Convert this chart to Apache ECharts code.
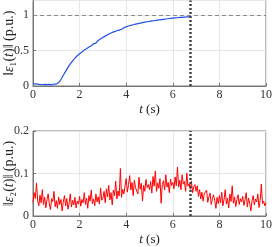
<!DOCTYPE html>
<html><head><meta charset="utf-8">
<script src="https://cdn.jsdelivr.net/npm/echarts@6/dist/echarts.min.js"></script>
<style>html,body{margin:0;padding:0;background:#fff}#c{width:274px;height:247px}</style>
</head><body><div id="c"></div>
<script>
const dt = 0.05;
const xTicks = [0, 2, 4, 6, 8, 10];
const topTicks = [0, 0.5, 1];
const botTicks = [0, 0.1, 0.2];
const tSwitch = 6.74;
const refLevel = 1;
const e1 = [
0.028,0.022,0.031,0.019,0.026,0.033,0.021,0.027,0.018,0.029,0.024,0.032,0.02,0.026,0.023,0.03,0.017,0.025,0.028,0.021,0.027,0.024,
0.048,0.062,0.09,0.112,0.15,0.168,0.205,0.222,0.262,0.27,0.31,0.318,0.352,0.36,0.39,0.392,0.425,0.421,0.452,0.446,
0.478,0.472,0.505,0.51,0.522,0.54,0.548,0.568,0.566,0.59,0.592,0.61,0.602,0.63,0.64,0.638,0.662,0.658,
0.68,0.682,0.70,0.694,0.718,0.714,0.736,0.73,0.752,0.748,0.764,0.77,0.776,0.789,0.784,0.802,0.796,0.81,0.818,0.812,
0.83,0.826,0.842,0.836,0.852,0.846,0.86,0.854,0.868,0.862,0.876,0.87,0.882,0.878,0.89,0.884,0.896,0.891,0.902,0.897,
0.906,0.9,0.913,0.907,0.916,0.91,0.922,0.918,0.927,0.92,0.932,0.926,0.936,0.93,0.94,0.934,0.944,0.938,0.948,0.942,
0.952,0.946,0.955,0.95,0.958,0.952,0.962,0.956,0.964,0.96,0.968,0.962,0.97,0.964,0.972,0.968
];
const e2 = [
0.032,0.055,0.041,0.078,0.036,0.024,0.049,0.031,0.062,0.027,0.044,0.019,0.038,0.052,0.029,0.015,0.041,0.034,0.058,0.022,
0.036,0.018,0.045,0.027,0.039,0.012,0.033,0.048,0.024,0.041,0.016,0.03,0.052,0.021,0.037,0.026,0.044,0.019,0.035,0.028,
0.046,0.023,0.039,0.031,0.055,0.027,0.042,0.018,0.048,0.035,0.061,0.029,0.04,0.024,0.052,0.033,0.045,0.028,0.066,0.037,
0.042,0.058,0.031,0.064,0.045,0.072,0.038,0.055,0.026,0.061,0.048,0.082,0.04,0.059,0.047,0.112,0.044,0.063,0.052,0.071,
0.088,0.056,0.074,0.095,0.061,0.079,0.048,0.084,0.066,0.07,0.052,0.091,0.063,0.077,0.035,0.072,0.058,0.086,0.067,0.074,
0.062,0.081,0.054,0.093,0.07,0.106,0.058,0.078,0.065,0.088,0.03,0.074,0.083,0.061,0.097,0.068,0.079,0.055,0.087,0.072,
0.079,0.064,0.092,0.071,0.115,0.068,0.084,0.062,0.097,0.075,0.081,0.058,0.101,0.07,0.076,0.063,0.082,0.055,0.069,0.074,
0.058,0.071,0.046,0.062,0.04,0.056,0.035,0.052,0.048,0.061,0.032,0.045,0.054,0.027,0.041,0.05,0.036,0.018,0.044,0.029,
0.048,0.031,0.056,0.024,0.039,0.062,0.028,0.042,0.019,0.052,0.034,0.071,0.03,0.045,0.022,0.038,0.05,0.027,0.041,0.033,
0.046,0.025,0.038,0.055,0.021,0.042,0.03,0.012,0.036,0.048,0.026,0.04,0.033,0.052,0.02,0.037,0.075,0.029,0.035,0.024,0.031
];
const pairs = arr => arr.map((v, i) => [+(i * dt).toFixed(2), v]);
const lfont = "'Liberation Serif','DejaVu Serif',serif";
const rich = { i: { fontStyle: 'italic', fontFamily: lfont, fontSize: 14, color: '#222' } };
const richX = { i: { fontStyle: 'italic', fontFamily: lfont, fontSize: 13, color: '#222' } };
function xAxis(gi) {
  return {
    gridIndex: gi, type: 'value', min: 0, max: 10, interval: 2,
    name: '{i|t} (s)', nameLocation: 'middle', nameGap: 17, nameMoveOverlap: false,
    nameTextStyle: { fontFamily: lfont, fontSize: 13, color: '#222', rich: richX },
    axisLine: { show: true, lineStyle: { color: '#777' } },
    axisTick: { show: true, inside: true, length: 3, lineStyle: { color: '#777' } },
    axisLabel: { fontFamily: lfont, fontSize: 12, color: '#333', margin: 3 },
    splitLine: { show: true, lineStyle: { color: '#e8e8e8' } }
  };
}
function yAxis(gi, max, interval, name) {
  return {
    gridIndex: gi, type: 'value', min: 0, max, interval,
    name, nameLocation: 'middle', nameGap: 17, nameMoveOverlap: false,
    nameTextStyle: { fontFamily: lfont, fontSize: 14, color: '#222', rich },
    axisLine: { show: true, lineStyle: { color: '#777' } },
    axisTick: { show: true, inside: true, length: 3, lineStyle: { color: '#777' } },
    axisLabel: { fontFamily: lfont, fontSize: 12, color: '#333', margin: 4, showMaxLabel: max === 0.2,
      formatter: v => String(+v.toFixed(2)) },
    splitLine: { show: true, lineStyle: { color: '#e8e8e8' } }
  };
}
const chart = echarts.init(document.getElementById('c'), null, { renderer: 'canvas' });
chart.setOption({
  animation: false,
  grid: [
    { left: 33, top: 0.5, width: 233, height: 85.5, show: true, borderColor: '#777', borderWidth: 1, outerBoundsMode: 'none', containLabel: false },
    { left: 33, top: 131, width: 233, height: 85, show: true, borderColor: '#777', borderWidth: 1, outerBoundsMode: 'none', containLabel: false }
  ],
  xAxis: [xAxis(0), xAxis(1)],
  yAxis: [
    yAxis(0, 1.2, 0.5, '‖{i|ε}₁({i|t})‖ (p.u.)'),
    yAxis(1, 0.2, 0.1, '‖{i|ε}₂({i|t})‖ (p.u.)')
  ],
  series: [
    {
      type: 'line', xAxisIndex: 0, yAxisIndex: 0, data: pairs(e1), showSymbol: false,
      lineStyle: { color: '#1f4fe6', width: 1.2 },
      markLine: {
        silent: true, symbol: 'none', label: { show: false },
        data: [
          { yAxis: refLevel, lineStyle: { color: '#888', width: 1, type: [4, 3] } },
          { xAxis: tSwitch, lineStyle: { color: '#444', width: 2.5, type: [2, 2] } }
        ]
      }
    },
    {
      type: 'line', xAxisIndex: 1, yAxisIndex: 1, data: pairs(e2), showSymbol: false,
      lineStyle: { color: '#ff0000', width: 1 },
      markLine: {
        silent: true, symbol: 'none', label: { show: false },
        data: [
          { xAxis: tSwitch, lineStyle: { color: '#444', width: 2.5, type: [2, 2] } }
        ]
      }
    }
  ]
});
</script></body></html>
